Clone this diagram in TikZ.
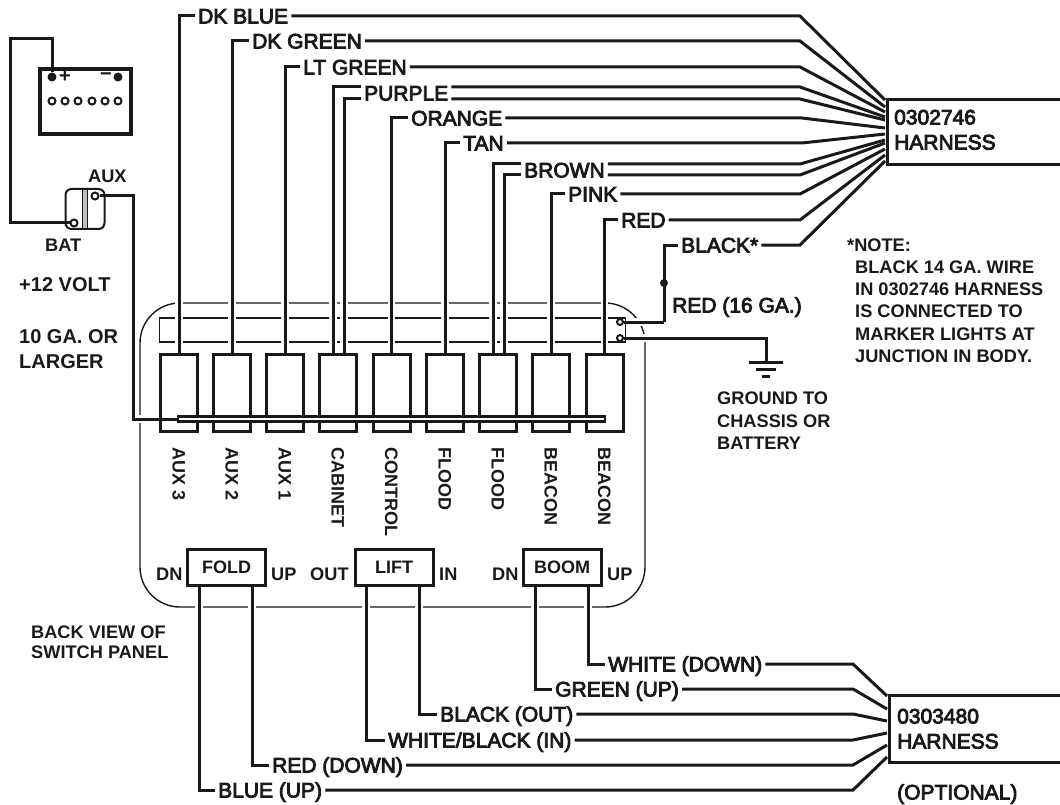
\documentclass[tikz,border=0pt]{standalone}
\usepackage{fontspec}
\setmainfont{Liberation Sans}
\newfontfamily\wirefont[FakeBold=4]{Liberation Sans}
\newfontfamily\notefont{Liberation Sans Bold}
\usepackage{xcolor}
\usepackage{tikz}
\usetikzlibrary{positioning}
\usetikzlibrary{arrows.meta}
\colorlet{ink}{black!90}
\tikzstyle{line} = [draw, ink, line width=3pt]
\tikzstyle{halo} = [preaction={draw, white, line width=7.5pt}]
\begin{document}
\begin{tikzpicture}[x=1pt, y=-1pt, auto,
wirelabel/.style={anchor=west, inner xsep=3pt, inner ysep=0pt, text height=15pt, text depth=0pt, font=\wirefont\fontsize{21}{21}\selectfont, ink},
harnesstext/.style={anchor=west, inner sep=0pt, text height=15pt, text depth=0pt, font=\wirefont\fontsize{21}{21}\selectfont, ink},
smalltext/.style={anchor=west, inner sep=0pt, text height=13pt, text depth=0pt, font=\notefont\fontsize{18.2}{18}\selectfont, ink},
midtext/.style={anchor=west, inner sep=0pt, text height=14pt, text depth=0pt, font=\notefont\fontsize{20}{20}\selectfont, ink},
switchlabel/.style={anchor=west, rotate=-90, inner sep=0pt, text height=13pt, text depth=0pt, font=\notefont\fontsize{18}{18}\selectfont, ink},
switchbox/.style={draw=ink, line width=3pt, minimum width=37pt, minimum height=77pt, inner sep=0pt},
togglebox/.style={draw=ink, line width=3pt, minimum width=78pt, minimum height=36pt, inner sep=0pt, font=\notefont\fontsize{18}{18}\selectfont, text=ink},
harnessbox/.style={draw=ink, line width=2.6pt, inner sep=0pt},
term/.style={circle, draw=ink, fill=white, line width=2pt, minimum size=7pt, inner sep=0pt},
post/.style={circle, fill=ink, minimum size=9pt, inner sep=0pt}]
\useasboundingbox (0,0) rectangle (1060,805);
%% Panel
\node [draw=ink, line width=1.4pt, rounded corners=40pt, minimum width=505pt, minimum height=304pt, inner sep=0pt] (PANEL) at (392.5,455) {};
\node [draw=ink, line width=1.4pt, minimum width=466pt, minimum height=24pt, inner sep=0pt] (STRIP) at (392.5,330) {};
%% Switches
\node [switchbox] (S1) at (179,393) {};
\node [switchbox] (S2) at (232,393) {};
\node [switchbox] (S3) at (285,393) {};
\node [switchbox] (S4) at (338,393) {};
\node [switchbox] (S5) at (391.5,393) {};
\node [switchbox] (S6) at (445,393) {};
\node [switchbox] (S7) at (498,393) {};
\node [switchbox] (S8) at (551,393) {};
\node [switchbox] (S9) at (604.5,393) {};
\node [draw=ink, fill=white, line width=2.6pt, minimum width=427pt, minimum height=5pt, inner sep=0pt] (BUS) at (391.5,419) {};
\node [switchlabel] (L1) at (179,447) {AUX 3};
\node [switchlabel] (L2) at (232,447) {AUX 2};
\node [switchlabel] (L3) at (285,447) {AUX 1};
\node [switchlabel] (L4) at (338,447) {CABINET};
\node [switchlabel] (L5) at (391.5,447) {CONTROL};
\node [switchlabel] (L6) at (445,447) {FLOOD};
\node [switchlabel] (L7) at (498,447) {FLOOD};
\node [switchlabel] (L8) at (551,447) {BEACON};
\node [switchlabel] (L9) at (604.5,447) {BEACON};
\node [togglebox] (FOLD) at (226.5,567.5) {FOLD};
\node [togglebox] (LIFT) at (394,567.5) {LIFT};
\node [togglebox] (BOOM) at (562,567.5) {BOOM};
\node [smalltext] (F1) at (156,574) {DN};
\node [smalltext] (F2) at (271,574) {UP};
\node [smalltext] (F3) at (310,574) {OUT};
\node [smalltext] (F4) at (439,574) {IN};
\node [smalltext] (F5) at (492,574) {DN};
\node [smalltext] (F6) at (607,574) {UP};
%% Harnesses
\node [harnessbox, minimum width=176pt, minimum height=65pt, anchor=north west] (H1) at (886,98) {};
\node [harnessbox, minimum width=174pt, minimum height=67pt, anchor=north west] (H2) at (888,694) {};
\node [harnesstext] (H1a) at (894,117) {0302746};
\node [harnesstext] (H1b) at (894,142) {HARNESS};
\node [harnesstext] (H2a) at (897,716) {0303480};
\node [harnesstext] (H2b) at (897,741) {HARNESS};
\node [harnesstext] (H2c) at (897,792) {(OPTIONAL)};
%% Wire names
\node [wirelabel] (DKBLUE) at (195,16) {DK BLUE};
\node [wirelabel] (DKGREEN) at (249,41) {DK GREEN};
\node [wirelabel] (LTGREEN) at (300,67) {LT GREEN};
\node [wirelabel] (PURPLE) at (361,93) {PURPLE};
\node [wirelabel] (ORANGE) at (408,118) {ORANGE};
\node [wirelabel] (TAN) at (460,143) {TAN};
\node [wirelabel] (BROWN) at (521,170) {BROWN};
\node [wirelabel] (PINK) at (565,194) {PINK};
\node [wirelabel] (RED) at (618,220) {RED};
\node [wirelabel] (BLACK) at (678,245) {BLACK*};
\node [wirelabel] (REDG) at (669,305) {RED (16 GA.)};
\node [wirelabel] (WHITED) at (605,664) {WHITE (DOWN)};
\node [wirelabel] (GREENU) at (552,689) {GREEN (UP)};
\node [wirelabel] (BLACKO) at (437,714) {BLACK (OUT)};
\node [wirelabel] (WHITEB) at (385,740) {WHITE/BLACK (IN)};
\node [wirelabel] (REDD) at (269,765) {RED (DOWN)};
\node [wirelabel] (BLUEU) at (215,790) {BLUE (UP)};
%% Bends
\coordinate (B1) at (800,16);
\coordinate (B2) at (800,41);
\coordinate (B3) at (800,67);
\coordinate (B4) at (800,87);
\coordinate (B5) at (800,99);
\coordinate (B6) at (802,118);
\coordinate (B7) at (802,143);
\coordinate (B8) at (800,164);
\coordinate (B9) at (800,175);
\coordinate (B10) at (800,194);
\coordinate (B11) at (800,220);
\coordinate (B12) at (800,245);
\coordinate (E1) at (885,100);
\coordinate (E2) at (885,107);
\coordinate (E3) at (885,112);
\coordinate (E4) at (885,117);
\coordinate (E5) at (885,120);
\coordinate (E6) at (885,128);
\coordinate (E7) at (885,134);
\coordinate (E8) at (885,140);
\coordinate (E9) at (885,143);
\coordinate (E10) at (885,149);
\coordinate (E11) at (885,155);
\coordinate (E12) at (885,161);
%% Upper wires
\path [line, halo] (S1.north) |- (DKBLUE.west);
\path [line, halo] (S2.north) |- (DKGREEN.west);
\path [line, halo] (S3.north) |- (LTGREEN.west);
\path [line, halo] ([xshift=-5pt]S4.north) |- ([yshift=6pt]PURPLE.west);
\path [line, halo] ([xshift=6pt]S4.north) |- ([yshift=-6pt]PURPLE.west);
\path [line, halo] (S5.north) |- (ORANGE.west);
\path [line, halo] (S6.north) |- (TAN.west);
\path [line, halo] ([xshift=-5pt]S7.north) |- ([yshift=6pt]BROWN.west);
\path [line, halo] ([xshift=6pt]S7.north) |- ([yshift=-5pt]BROWN.west);
\path [line, halo] (S8.north) |- (PINK.west);
\path [line, halo] (S9.north) |- (RED.west);
\path [line] (DKBLUE.east) -- (B1) -- (E1);
\path [line] (DKGREEN.east) -- (B2) -- (E2);
\path [line] (LTGREEN.east) -- (B3) -- (E3);
\path [line] ([yshift=6pt]PURPLE.east) -- (B4) -- (E4);
\path [line] ([yshift=-6pt]PURPLE.east) -- (B5) -- (E5);
\path [line] (ORANGE.east) -- (B6) -- (E6);
\path [line] (TAN.east) -- (B7) -- (E7);
\path [line] ([yshift=6pt]BROWN.east) -- (B8) -- (E8);
\path [line] ([yshift=-5pt]BROWN.east) -- (B9) -- (E9);
\path [line] (PINK.east) -- (B10) -- (E10);
\path [line] (RED.east) -- (B11) -- (E11);
\path [line] (BLACK.east) -- (B12) -- (E12);
%% Terminals
\coordinate (TR2) at (629,322);
\coordinate (TG2) at (629,338);
\coordinate (J) at (664,283);
\coordinate (K) at (664,322);
\coordinate (G) at (766,362);
\coordinate (K2) at (664,245);
\path [line, halo] (TR2) -- (K);
\path [line, halo] (TG2) -| (G);
\node [term, minimum size=6pt] (TR) at (620,322) {};
\node [term, minimum size=6pt] (TG) at (620,338) {};
\path [line] (TR) -- (TR2);
\path [line] (TG) -- (TG2);
\path [line] (K) -- (K2) -- (BLACK.west);
\node [post, minimum size=8pt] (DOT) at (J) {};
\path [line] ([xshift=-17pt]G) -- ([xshift=17pt]G);
\path [line] ([xshift=-10pt,yshift=-7pt]G) -- ([xshift=10pt,yshift=-7pt]G);
\path [line] ([xshift=-4pt,yshift=-14pt]G) -- ([xshift=4pt,yshift=-14pt]G);
%% Lower wires
\coordinate (C1) at (853,664);
\coordinate (C2) at (853,689);
\coordinate (C3) at (853,714);
\coordinate (C4) at (853,740);
\coordinate (C5) at (853,765);
\coordinate (C6) at (853,790);
\coordinate (D1) at (887,696);
\coordinate (D2) at (887,709);
\coordinate (D3) at (887,721);
\coordinate (D4) at (887,733);
\coordinate (D5) at (887,745);
\coordinate (D6) at (887,757);
\path [line, halo] ([xshift=26pt]BOOM.south) |- (WHITED.west);
\path [line, halo] ([xshift=-27pt]BOOM.south) |- (GREENU.west);
\path [line, halo] ([xshift=25pt]LIFT.south) |- (BLACKO.west);
\path [line, halo] ([xshift=-28pt]LIFT.south) |- (WHITEB.west);
\path [line, halo] ([xshift=25.5pt]FOLD.south) |- (REDD.west);
\path [line, halo] ([xshift=-27.5pt]FOLD.south) |- (BLUEU.west);
\path [line] (WHITED.east) -- (C1) -- (D1);
\path [line] (GREENU.east) -- (C2) -- (D2);
\path [line] (BLACKO.east) -- (C3) -- (D3);
\path [line] (WHITEB.east) -- (C4) -- (D4);
\path [line] (REDD.east) -- (C5) -- (D5);
\path [line] (BLUEU.east) -- (C6) -- (D6);
%% Battery
\node [draw=ink, line width=4pt, minimum width=91pt, minimum height=65pt, inner sep=0pt] (BATT) at (85.5,101.5) {};
\node [post] (PLUS) at (52,77) {};
\node [post] (MINUS) at (118,77) {};
\node [inner sep=0pt, font=\notefont\fontsize{20}{20}\selectfont, ink] (PS) at (65,77) {+};
\node [inner sep=0pt, font=\notefont\fontsize{20}{20}\selectfont, ink] (MS) at (106,77) {\textminus};
\node [term] (C01) at (52,101) {};
\node [term] (C02) at (65,101) {};
\node [term] (C03) at (78,101) {};
\node [term] (C04) at (92,101) {};
\node [term] (C05) at (105,101) {};
\node [term] (C06) at (118,101) {};
%% Master switch
\node [draw=ink, line width=2pt, rounded corners=6pt, minimum width=39pt, minimum height=40pt, inner sep=0pt] (MSW) at (85,209) {};
\node [draw=ink, fill=black!25, line width=1.6pt, minimum width=5pt, minimum height=40pt, inner sep=0pt] (ROCK) at (85,209) {};
\node [term] (TBAT) at (74,223) {};
\node [term] (TAUX) at (95,196) {};
\coordinate (W1) at (52,39);
\coordinate (W2) at (10,39);
\coordinate (W3) at (10,223);
\coordinate (V1) at (133,196);
\coordinate (V2) at (133,419);
\coordinate (V3) at (152,419);
\path [line] (PLUS) -- (W1) -- (W2) -- (W3) -- (TBAT);
\path [line, halo] (V3) -- (V2);
\path [line] (BUS.west) -- (V2) -- (V1) -- (TAUX);
%% Notes
\node [smalltext] (AUX) at (88,176) {AUX};
\node [smalltext] (BAT) at (45,245) {BAT};
\node [midtext] (V12) at (19,284) {+12 VOLT};
\node [midtext] (GA1) at (19,336) {10 GA. OR};
\node [midtext] (GA2) at (19,361) {LARGER};
\node [smalltext] (BACK1) at (31,632) {BACK VIEW OF};
\node [smalltext] (BACK2) at (31,652) {SWITCH PANEL};
\node [smalltext] (N0) at (847,245) {*NOTE:};
\node [smalltext] (N1) at (855,267) {BLACK 14 GA. WIRE};
\node [smalltext] (N2) at (855,289) {IN 0302746 HARNESS};
\node [smalltext] (N3) at (855,311) {IS CONNECTED TO};
\node [smalltext] (N4) at (855,334) {MARKER LIGHTS AT};
\node [smalltext] (N5) at (855,356) {JUNCTION IN BODY.};
\node [smalltext] (G1) at (717,398) {GROUND TO};
\node [smalltext] (G2) at (717,421) {CHASSIS OR};
\node [smalltext] (G3) at (717,443) {BATTERY};
\end{tikzpicture}
\end{document}
